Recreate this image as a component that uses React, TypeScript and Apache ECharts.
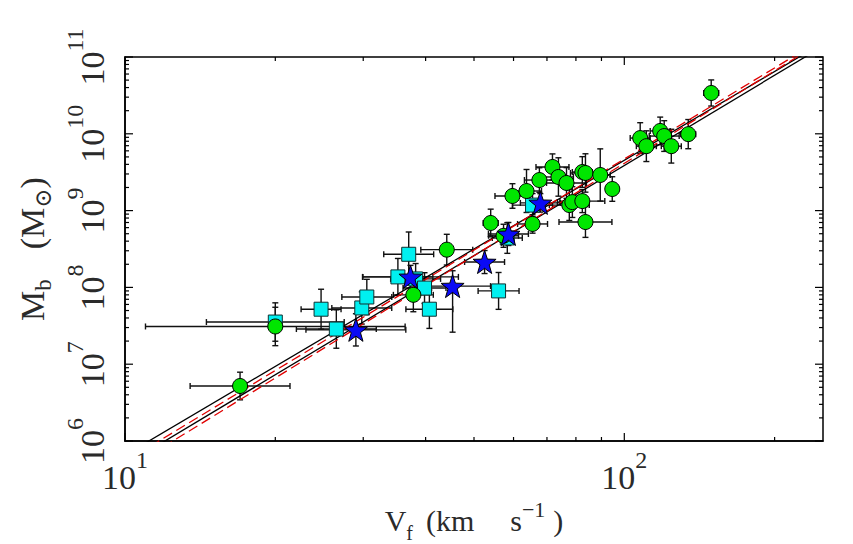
import React, { useEffect, useRef } from "react";
import * as echarts from "echarts";

// ---------------- data ----------------
// Green circles
const greenV = [17.0, 20.0, 44.1, 37.8, 54.0, 57.3, 59.7, 63.7, 65.5, 67.6, 71.8, 73.8, 76.6, 77.6, 78.7, 82.4, 83.6, 82.4, 83.6, 89.5, 94.6, 107.6, 110.7, 118.0, 120.2, 124.2, 134.3, 149.3];
const greenM = [5.2e6, 3.1e7, 3.1e8, 8.0e7, 6.9e8, 4.7e8, 1.55e9, 1.8e9, 6.7e8, 2.5e9, 3.7e9, 2.74e9, 2.29e9, 1.18e9, 1.29e9, 3.18e9, 3.09e9, 1.33e9, 7.1e8, 2.91e9, 1.91e9, 8.8e9, 6.9e9, 1.09e10, 9.35e9, 6.9e9, 9.9e9, 3.4e10];
const greenVErr = [0.10, 0.26, 0.052, 0.04, 0.015, 0.03, 0.035, 0.03, 0.03, 0.03, 0.033, 0.03, 0.04, 0.04, 0.03, 0.02, 0.03, 0.045, 0.053, 0.02, 0.012, 0.02, 0.02, 0.02, 0.03, 0.02, 0.015, 0.015];
const greenMErr = [0.18, 0.25, 0.20, 0.22, 0.18, 0.15, 0.16, 0.28, 0.12, 0.16, 0.17, 0.25, 0.2, 0.2, 0.2, 0.2, 0.25, 0.15, 0.2, 0.34, 0.16, 0.2, 0.2, 0.18, 0.2, 0.22, 0.19, 0.17];

// Cyan squares
const cyanV = [20.0, 24.7, 26.5, 29.8, 30.5, 35.2, 37.0, 38.2, 39.8, 40.7, 56.0, 58.3, 65.5];
const cyanM = [3.54e7, 5.2e7, 2.87e7, 5.4e7, 7.5e7, 1.37e8, 2.7e8, 1.29e8, 9.8e7, 5.2e7, 9.0e7, 4.4e8, 1.18e9];
const cyanVErr = [0.138, 0.04, 0.08, 0.06, 0.05, 0.07, 0.05, 0.05, 0.043, 0.047, 0.041, 0.03, 0.04];
const cyanMErr = [0.25, 0.26, 0.25, 0.21, 0.23, 0.24, 0.29, 0.2, 0.2, 0.25, 0.24, 0.2, 0.15];

// Blue stars
const starV = [29.0, 37.3, 45.3, 52.5, 58.6, 67.9];
const starM = [2.8e7, 1.37e8, 1.04e8, 2.14e8, 4.96e8, 1.26e9];
const starVErr = [0.10, 0.096, 0.076, 0.04, 0.04, 0.04];
const starMErr: (number | [number, number])[] = [0.21, 0.15, [0.6, 0.2], 0.15, 0.15, 0.12];

// Power-law fits: log M = intercept + slope * log V
const fitSlope = [3.84, 3.9, 3.94, 4.0];
const fitIntercept = [1.976, 1.788, 1.792, 1.616];

// Axis ranges and ticks
const X_MIN = 10;
const X_MAX = 250;
const Y_MIN = 1e6;
const Y_MAX = 1e11;
const xMajorTicks = [10, 100];
const xMinorTicks = [20, 30, 40, 50, 60, 70, 80, 90, 200];
const yMajorTicks = [1e6, 1e7, 1e8, 1e9, 1e10, 1e11];
const minorMultipliers = [2, 3, 4, 5, 6, 7, 8, 9];

// ---------------- styles ----------------
const W = 853;
const H = 544;
const FONT = '"Liberation Serif", "DejaVu Serif", serif';
const TXT = "#2a2a2a";
const fitStyles = [
  { color: "#000", type: "solid" as any },
  { color: "#000", type: "solid" as any },
  { color: "#e00000", type: [10, 5] as any },
  { color: "#e00000", type: [10, 5] as any },
];

function bounds(v: number, e: number | [number, number]): [number, number] {
  const [lo, hi] = Array.isArray(e) ? e : [e, e];
  return [v / Math.pow(10, lo), v * Math.pow(10, hi)];
}

function errData(V: number[], M: number[], VE: (number | [number, number])[], ME: (number | [number, number])[]) {
  return V.map((v, i) => {
    const [vl, vh] = bounds(v, VE[i]);
    const [ml, mh] = bounds(M[i], ME[i]);
    return [v, M[i], vl, vh, ml, mh];
  });
}

const STAR_PATH =
  "path://M0,-10 L2.35,-3.24 L9.51,-3.09 L3.8,1.24 L5.88,8.09 L0,4 L-5.88,8.09 L-3.8,1.24 L-9.51,-3.09 L-2.35,-3.24 Z";

const tickRich = {
  b: { fontFamily: FONT, fontSize: 34, lineHeight: 46, color: TXT, verticalAlign: "bottom" },
  s: { fontFamily: FONT, fontSize: 24, color: TXT, verticalAlign: "top" },
};

const xTitleRich = {
  b: { fontFamily: FONT, fontSize: 30, lineHeight: 44, color: TXT, verticalAlign: "middle" },
  g1: { fontFamily: FONT, fontSize: 30, lineHeight: 44, color: TXT, verticalAlign: "middle", padding: [0, 0, 0, 13] },
  g2: { fontFamily: FONT, fontSize: 30, lineHeight: 44, color: TXT, verticalAlign: "middle", padding: [0, 0, 0, 36] },
  g3: { fontFamily: FONT, fontSize: 30, lineHeight: 44, color: TXT, verticalAlign: "middle", padding: [0, 0, 0, 8] },
  sub: { fontFamily: FONT, fontSize: 20, color: TXT, verticalAlign: "bottom" },
  sup: { fontFamily: FONT, fontSize: 22, color: TXT, verticalAlign: "top" },
};

const yTitleRich = {
  b: { fontFamily: FONT, fontSize: 34, lineHeight: 46, color: TXT, verticalAlign: "middle" },
  g1: { fontFamily: FONT, fontSize: 34, lineHeight: 46, color: TXT, verticalAlign: "middle", padding: [0, 0, 0, 30] },
  sub: { fontFamily: FONT, fontSize: 23, color: TXT, verticalAlign: "bottom" },
};

function powLabel(v: number) {
  const e = Math.round(Math.log10(v));
  return `{b|10}{s|${e}}`;
}

function buildOption() {
  const errAll = [
    ...errData(cyanV, cyanM, cyanVErr, cyanMErr),
    ...errData(greenV, greenM, greenVErr, greenMErr),
    ...errData(starV, starM, starVErr, starMErr),
  ];

  const tickData: number[][] = [];
  xMajorTicks.forEach((v) => tickData.push([v, Y_MIN, 0]));
  xMinorTicks.forEach((v) => tickData.push([v, Y_MIN, 1]));
  yMajorTicks.forEach((m) => tickData.push([X_MIN, m, 2]));
  yMajorTicks.slice(0, -1).forEach((m) => minorMultipliers.forEach((k) => tickData.push([X_MIN, m * k, 3])));

  const fitSeries = fitSlope.map((b, i) => ({
    type: "line",
    z: 3,
    silent: true,
    showSymbol: false,
    symbol: "none",
    clip: true,
    lineStyle: { color: fitStyles[i].color, width: 1.3, type: fitStyles[i].type },
    data: [X_MIN, X_MAX].map((v) => [v, Math.pow(10, fitIntercept[i] + b * Math.log10(v))]),
  }));

  return {
    animation: false,
    backgroundColor: "#fff",
    grid: {
      left: 125,
      right: 30,
      top: 57,
      bottom: 103,
      containLabel: false,
      outerBoundsMode: "none",
      show: true,
      borderColor: "#000",
      borderWidth: 1.5,
      backgroundColor: "transparent",
    },
    xAxis: {
      type: "log",
      logBase: 10,
      min: X_MIN,
      max: X_MAX,
      axisLine: { show: true, onZero: false, lineStyle: { color: "#000", width: 1.5 } },
      axisTick: { show: false },
      minorTick: { show: false },
      splitLine: { show: false },
      axisLabel: { margin: 7, showMaxLabel: false, formatter: powLabel, rich: tickRich },
      name: "{b|V}{sub|f}{g1|(km}{g2|s}{sup|−1}{g3|)}",
      nameLocation: "middle",
      nameGap: 44,
      nameTextStyle: { rich: xTitleRich },
    },
    yAxis: {
      type: "log",
      logBase: 10,
      min: Y_MIN,
      max: Y_MAX,
      axisLine: { show: true, onZero: false, lineStyle: { color: "#000", width: 1.5 } },
      axisTick: { show: false },
      minorTick: { show: false },
      splitLine: { show: false },
      axisLabel: { margin: 16, rotate: 90, formatter: powLabel, rich: tickRich },
      name: "{b|M}{sub|b}{g1|(M}{sub|⊙}{b|)}",
      nameLocation: "middle",
      nameRotate: 90,
      nameGap: 62,
      nameTextStyle: { rich: yTitleRich },
    },
    series: [
      {
        type: "custom",
        z: 2,
        silent: true,
        encode: { x: 0, y: 1 },
        data: errAll,
        renderItem: (params: any, api: any) => {
          const v = api.value(0);
          const m = api.value(1);
          const l = api.coord([api.value(2), m]);
          const r = api.coord([api.value(3), m]);
          const b = api.coord([v, api.value(4)]);
          const t = api.coord([v, api.value(5)]);
          const cap = 3;
          const style = { stroke: "#111", lineWidth: 1.4, fill: null };
          const seg = (x1: number, y1: number, x2: number, y2: number) => ({ type: "line", shape: { x1, y1, x2, y2 }, style });
          return {
            type: "group",
            children: [
              seg(l[0], l[1], r[0], r[1]),
              seg(l[0], l[1] - cap, l[0], l[1] + cap),
              seg(r[0], r[1] - cap, r[0], r[1] + cap),
              seg(b[0], b[1], t[0], t[1]),
              seg(b[0] - cap, b[1], b[0] + cap, b[1]),
              seg(t[0] - cap, t[1], t[0] + cap, t[1]),
            ],
          };
        },
      },
      ...fitSeries,
      {
        type: "scatter",
        z: 4,
        symbol: "rect",
        symbolSize: 14,
        itemStyle: { color: "#00f0f0", borderColor: "#103030", borderWidth: 1, opacity: 1 },
        data: cyanV.map((v, i) => [v, cyanM[i]]),
      },
      {
        type: "scatter",
        z: 5,
        symbol: "circle",
        symbolSize: 15,
        itemStyle: { color: "#00e600", borderColor: "#000", borderWidth: 1, opacity: 1 },
        data: greenV.map((v, i) => [v, greenM[i]]),
      },
      {
        type: "scatter",
        z: 6,
        symbol: STAR_PATH,
        symbolSize: 23,
        itemStyle: { color: "#0a0af5", borderColor: "#000", borderWidth: 1, opacity: 1 },
        data: starV.map((v, i) => [v, starM[i]]),
      },
      {
        type: "custom",
        z: 7,
        silent: true,
        encode: { x: 0, y: 1 },
        data: tickData,
        renderItem: (params: any, api: any) => {
          const cs = params.coordSys;
          const kind = api.value(2);
          const p = api.coord([api.value(0), api.value(1)]);
          const len = kind % 2 === 0 ? 8 : 4;
          const style = { stroke: "#000", lineWidth: 1.2, fill: null };
          if (kind < 2) {
            const x = p[0];
            return {
              type: "group",
              children: [
                { type: "line", shape: { x1: x, y1: cs.y + cs.height, x2: x, y2: cs.y + cs.height - len }, style },
                { type: "line", shape: { x1: x, y1: cs.y, x2: x, y2: cs.y + len }, style },
              ],
            };
          }
          const y = p[1];
          return {
            type: "group",
            children: [
              { type: "line", shape: { x1: cs.x, y1: y, x2: cs.x + len, y2: y }, style },
              { type: "line", shape: { x1: cs.x + cs.width, y1: y, x2: cs.x + cs.width - len, y2: y }, style },
            ],
          };
        },
      },
    ],
  };
}

export default function App() {
  const ref = useRef<HTMLDivElement>(null);
  useEffect(() => {
    document.body.style.margin = "0";
    const chart = echarts.init(ref.current!, null, { renderer: "svg", width: W, height: H });
    chart.setOption(buildOption() as any);
    return () => chart.dispose();
  }, []);
  return (
    <div
      ref={ref}
      style={{ position: "absolute", left: 0, top: 0, width: W, height: H, background: "#fff" }}
    />
  );
}
